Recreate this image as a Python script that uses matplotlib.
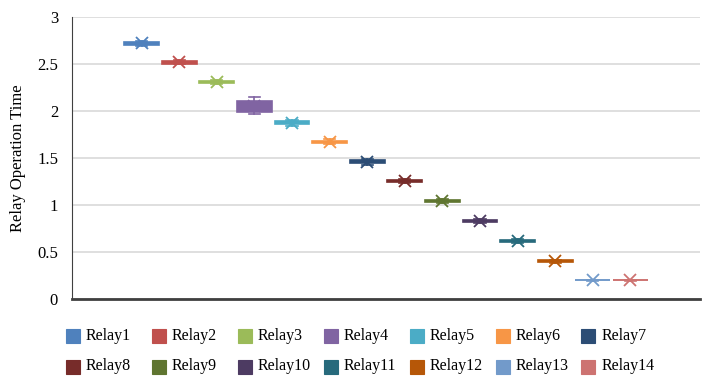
import numpy as np
import matplotlib.pyplot as plt
from matplotlib.patches import Rectangle

# box plot stats
relays = ['Relay%d' % i for i in range(1, 15)]
mins = [2.69, 2.50, 2.29, 1.97, 1.84, 1.65, 1.43, 1.23, 1.02, 0.81, 0.595, 0.385, 0.195, 0.195]
q1s = [2.70, 2.505, 2.295, 1.99, 1.86, 1.655, 1.45, 1.24, 1.03, 0.82, 0.605, 0.395, 0.20, 0.20]
medians = [2.72, 2.52, 2.31, 2.03, 1.875, 1.67, 1.46, 1.255, 1.04, 0.83, 0.615, 0.40, 0.20, 0.20]
q3s = [2.735, 2.53, 2.32, 2.11, 1.89, 1.685, 1.475, 1.265, 1.05, 0.84, 0.625, 0.41, 0.20, 0.20]
maxs = [2.745, 2.54, 2.33, 2.15, 1.905, 1.70, 1.49, 1.28, 1.06, 0.85, 0.635, 0.42, 0.205, 0.205]
means = [2.72, 2.52, 2.31, 2.05, 1.87, 1.67, 1.455, 1.255, 1.04, 0.83, 0.615, 0.40, 0.20, 0.20]

colors = ['#4F81BD', '#C0504D', '#9BBB59', '#8064A2', '#4BACC6', '#F79646', '#2C4D75',
          '#772C2A', '#5F7530', '#4D3B62', '#276A7C', '#B65708', '#729ACA', '#CD7371']

plt.rcParams['font.family'] = ['Liberation Serif', 'DejaVu Serif']

W, H = 718, 391
fig = plt.figure(figsize=(W / 100, H / 100), dpi=100)
ax = fig.add_axes([72 / W, 1 - 299 / H, 628 / W, 282 / H])

positions = np.arange(1, len(relays) + 1)
for i in range(len(relays)):
    st = [dict(med=medians[i], q1=q1s[i], q3=q3s[i], whislo=mins[i], whishi=maxs[i],
               mean=means[i], fliers=[], label=relays[i])]
    c = colors[i]
    ax.bxp(st, positions=[positions[i]], widths=0.93, capwidths=0.3,
           patch_artist=True, showmeans=True, manage_ticks=False,
           boxprops=dict(facecolor=c, edgecolor=c, linewidth=1.2),
           medianprops=dict(color=c, linewidth=1.2),
           whiskerprops=dict(color=c, linewidth=1.2),
           capprops=dict(color=c, linewidth=1.2),
           meanprops=dict(marker='x', markersize=9, markeredgecolor=c,
                          markeredgewidth=1.3))

ax.set_xlim(-0.85, 15.85)
ax.set_ylim(0, 3)
ax.set_yticks(np.arange(0, 3.01, 0.5))
ax.set_yticklabels(['0', '0.5', '1', '1.5', '2', '2.5', '3'])
ax.set_xticks([])
ax.tick_params(axis='y', length=0, labelsize=12, pad=10)
ax.yaxis.grid(True, color='#d9d9d9', linewidth=1.2)
ax.set_axisbelow(True)
for s in ['top', 'right']:
    ax.spines[s].set_visible(False)
ax.spines['left'].set_color('#404040')
ax.spines['bottom'].set_color('#404040')
ax.spines['bottom'].set_linewidth(2)
ax.set_ylabel('Relay Operation Time', fontsize=12, labelpad=8)

# legend laid out like Excel: 2 rows of 7, even column steps
for i, (name, c) in enumerate(zip(relays, colors)):
    row, col = divmod(i, 7)
    x0 = 66 + 85.9 * col
    yc = 336 + 30.5 * row
    fig.patches.append(Rectangle((x0 / W, 1 - (yc + 7) / H), 14 / W, 14 / H,
                                 transform=fig.transFigure, facecolor=c,
                                 edgecolor=c, linewidth=0.8))
    fig.text((x0 + 20) / W, 1 - yc / H, name, fontsize=11.5, va='center', ha='left')

fig.savefig('out.png', dpi=100)
